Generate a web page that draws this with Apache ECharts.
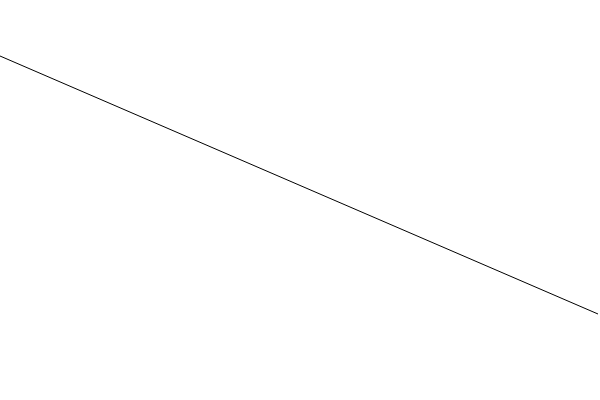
<!DOCTYPE html>
<html>
<head>
<meta charset="utf-8">
<script src="https://cdn.jsdelivr.net/npm/echarts@6/dist/echarts.min.js"></script>
<style>html,body{margin:0;padding:0;background:#fff;}#c{width:600px;height:400px;}</style>
</head>
<body>
<div id="c"></div>
<script>
const xValues = [0, 598];
const yValues = [344, 86];

const chart = echarts.init(document.getElementById('c'), null, {renderer: 'canvas'});
chart.setOption({
  animation: false,
  backgroundColor: '#fff',
  grid: {left: 0, right: 0, top: 0, bottom: 0},
  xAxis: {type: 'value', min: 0, max: 600, show: false},
  yAxis: {type: 'value', min: 0, max: 400, show: false},
  series: [{
    type: 'line',
    data: xValues.map((x, i) => [x, yValues[i]]),
    showSymbol: false,
    symbol: 'none',
    lineStyle: {color: '#000', width: 1}
  }]
});
</script>
</body>
</html>
